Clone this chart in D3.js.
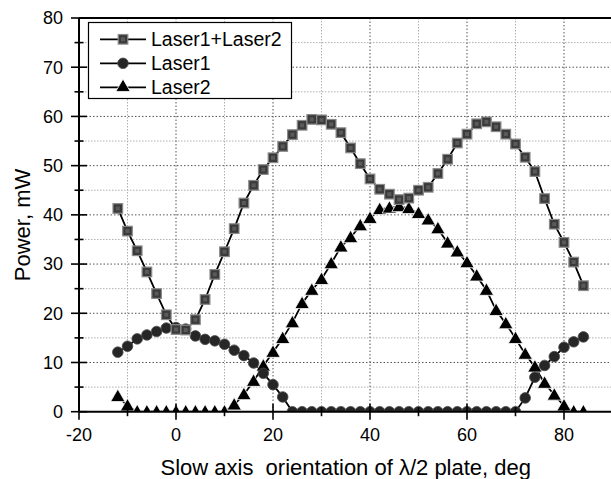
<!DOCTYPE html>
<html>
<head>
<meta charset="utf-8">
<script src="https://cdn.jsdelivr.net/npm/d3@7"></script>
<style>
  html, body { margin: 0; padding: 0; background: #fff; }
  svg { display: block; }
  text { font-family: "Liberation Sans", Arial, sans-serif; fill: #000; }
</style>
</head>
<body>
<svg id="chart" width="611" height="479"></svg>
<script>
// ---- data ----
const angles = d3.range(-12, 85, 2); // -12 ... 84 deg
const sumPower = [41.3, 36.7, 32.7, 28.4, 24.0, 19.7, 16.7, 16.6, 18.7, 22.8, 27.9, 32.5, 37.2, 42.4, 46.0, 49.2, 51.6, 53.9, 56.3, 58.2, 59.4, 59.3, 58.4, 56.7, 53.6, 50.4, 47.3, 45.2, 44.2, 43.1, 43.4, 45.0, 45.6, 48.4, 51.3, 54.6, 56.4, 58.5, 58.9, 57.9, 56.4, 54.4, 51.7, 48.8, 43.3, 38.1, 34.4, 30.4, 25.6];
const laser1 = [12.1, 13.3, 14.8, 15.6, 16.3, 17.0, 17.1, 16.8, 15.4, 14.7, 14.4, 13.7, 12.5, 11.4, 9.9, 7.8, 5.5, 3.0, 0, 0, 0, 0, 0, 0, 0, 0, 0, 0, 0, 0, 0, 0, 0, 0, 0, 0, 0, 0, 0, 0, 0, 0, 2.8, 7.0, 9.4, 11.2, 13.1, 14.2, 15.2];
const laser2 = [3.1, 1.2, 0, 0, 0, 0, 0, 0, 0, 0, 0, 0, 1.4, 3.5, 6.2, 9.3, 12.1, 14.9, 18.1, 22.0, 24.7, 26.9, 30.1, 33.5, 35.4, 37.8, 39.3, 41.1, 41.4, 41.7, 41.3, 40.3, 39.0, 37.2, 34.3, 32.5, 30.3, 27.6, 24.7, 20.6, 17.9, 14.9, 11.7, 9.1, 5.8, 3.4, 1.2, 0, 0];
const seriesNames = ["Laser1+Laser2", "Laser1", "Laser2"];
const xTicks = [-20, 0, 20, 40, 60, 80];
const yTicks = [0, 10, 20, 30, 40, 50, 60, 70, 80];
const xLabel = "Slow axis\u00a0 orientation of \u03bb/2 plate, deg";
const yLabel = "Power, mW";

// ---- layout ----
const svg = d3.select("#chart");
const L = 79, R = 612.5, T = 18, B = 411.7;
const x = d3.scaleLinear().domain([-20, 90]).range([L, R]);
const y = d3.scaleLinear().domain([0, 80]).range([B, T]);

// grid
const g = svg.append("g");
g.selectAll(".vminor").data(d3.range(-10, 90, 20)).enter().append("line")
  .attr("x1", d => x(d)).attr("x2", d => x(d)).attr("y1", T).attr("y2", B)
  .attr("stroke", "#b0b0b0").attr("stroke-width", 1).attr("stroke-dasharray", "1.5,1.5");
g.selectAll(".hminor").data(d3.range(5, 80, 10)).enter().append("line")
  .attr("x1", L).attr("x2", R).attr("y1", d => y(d)).attr("y2", d => y(d))
  .attr("stroke", "#b0b0b0").attr("stroke-width", 1).attr("stroke-dasharray", "1.5,1.5");
g.selectAll(".vmajor").data(d3.range(0, 90, 20)).enter().append("line")
  .attr("x1", d => x(d)).attr("x2", d => x(d)).attr("y1", T).attr("y2", B)
  .attr("stroke", "#555").attr("stroke-width", 1).attr("stroke-dasharray", "1.5,2");
g.selectAll(".hmajor").data(d3.range(10, 80, 10)).enter().append("line")
  .attr("x1", L).attr("x2", R).attr("y1", d => y(d)).attr("y2", d => y(d))
  .attr("stroke", "#555").attr("stroke-width", 1).attr("stroke-dasharray", "1.5,2");

// clip
svg.append("defs").append("clipPath").attr("id", "plotclip")
  .append("rect").attr("x", L).attr("y", T).attr("width", R - L).attr("height", B - T);

const plot = svg.append("g").attr("clip-path", "url(#plotclip)");
const line = d3.line().x(d => x(d[0])).y(d => y(d[1]));
const mk = arr => angles.map((a, i) => [a, arr[i]]);
const dSum = mk(sumPower), d1 = mk(laser1), d2 = mk(laser2);

plot.append("path").attr("d", line(d2)).attr("fill", "none").attr("stroke", "#000").attr("stroke-width", 1.8);
plot.append("path").attr("d", line(d1)).attr("fill", "none").attr("stroke", "#000").attr("stroke-width", 1.8);
plot.append("path").attr("d", line(dSum)).attr("fill", "none").attr("stroke", "#000").attr("stroke-width", 1.8);

const triPath = d3.symbol().type(d3.symbolTriangle).size(90)();
function drawSquare(sel, cx, cy) {
  sel.append("rect").attr("x", cx - 4.8).attr("y", cy - 4.8).attr("width", 9.6).attr("height", 9.6)
    .attr("fill", "#3a3a3a").attr("stroke", "#8a8a8a").attr("stroke-width", 1.2);
  sel.append("rect").attr("x", cx - 2).attr("y", cy - 2).attr("width", 4).attr("height", 4)
    .attr("fill", "#5a5a5a");
}
function drawCircle(sel, cx, cy) {
  sel.append("circle").attr("cx", cx).attr("cy", cy).attr("r", 5.3)
    .attr("fill", "#262626").attr("stroke", "#4a4a4a").attr("stroke-width", 0.8);
}
function drawTri(sel, cx, cy) {
  sel.append("path").attr("d", triPath).attr("transform", `translate(${cx},${cy + 1})`)
    .attr("fill", "#000").attr("stroke", "#fff").attr("stroke-width", 0.8);
}
d2.forEach(d => drawTri(plot, x(d[0]), y(d[1])));
d1.forEach(d => drawCircle(plot, x(d[0]), y(d[1])));
dSum.forEach(d => drawSquare(plot, x(d[0]), y(d[1])));

// frame (top and right)
svg.append("line").attr("x1", L).attr("x2", R).attr("y1", T).attr("y2", T).attr("stroke", "#000").attr("stroke-width", 2);
svg.append("line").attr("x1", R).attr("x2", R).attr("y1", T).attr("y2", B).attr("stroke", "#000").attr("stroke-width", 2);

// axes
const axisG = svg.append("g");
axisG.append("line").attr("x1", L).attr("x2", R).attr("y1", B).attr("y2", B).attr("stroke", "#000").attr("stroke-width", 2);
axisG.append("line").attr("x1", L).attr("x2", L).attr("y1", T).attr("y2", B).attr("stroke", "#000").attr("stroke-width", 2);

axisG.selectAll(".yt").data(yTicks).enter().append("line")
  .attr("x1", L - 8).attr("x2", L + 8).attr("y1", d => y(d)).attr("y2", d => y(d))
  .attr("stroke", "#000").attr("stroke-width", 1.6);
axisG.selectAll(".ytm").data(d3.range(5, 80, 10)).enter().append("line")
  .attr("x1", L - 4.5).attr("x2", L + 4.5).attr("y1", d => y(d)).attr("y2", d => y(d))
  .attr("stroke", "#000").attr("stroke-width", 1.6);
axisG.selectAll(".xt").data(xTicks).enter().append("line")
  .attr("x1", d => x(d)).attr("x2", d => x(d)).attr("y1", B - 8).attr("y2", B + 8)
  .attr("stroke", "#000").attr("stroke-width", 1.6);
axisG.selectAll(".xtm").data(d3.range(-10, 90, 20)).enter().append("line")
  .attr("x1", d => x(d)).attr("x2", d => x(d)).attr("y1", B - 4.5).attr("y2", B + 4.5)
  .attr("stroke", "#000").attr("stroke-width", 1.6);

axisG.selectAll(".yl").data(yTicks).enter().append("text")
  .attr("x", L - 16).attr("y", d => y(d)).attr("dy", "0.35em")
  .attr("text-anchor", "end").attr("font-size", 18).text(d => d);
axisG.selectAll(".xl").data(xTicks).enter().append("text")
  .attr("x", d => x(d)).attr("y", B + 29)
  .attr("text-anchor", "middle").attr("font-size", 18).text(d => d);

svg.append("text").attr("x", (L + R) / 2).attr("y", 475)
  .attr("text-anchor", "middle").attr("font-size", 22).text(xLabel);
svg.append("text").attr("transform", `translate(30, 225) rotate(-90)`)
  .attr("text-anchor", "middle").attr("font-size", 22).text(yLabel);

// legend
const leg = svg.append("g");
leg.append("rect").attr("x", 88.5).attr("y", 22.5).attr("width", 203).attr("height", 76)
  .attr("fill", "#fff").attr("stroke", "#000").attr("stroke-width", 1.2);
const rows = [39.3, 63.3, 87.3];
const drawers = [drawSquare, drawCircle, drawTri];
seriesNames.forEach((name, i) => {
  const cy = rows[i];
  leg.append("line").attr("x1", 100).attr("x2", 146).attr("y1", cy).attr("y2", cy)
    .attr("stroke", "#000").attr("stroke-width", 1.8);
  drawers[i](leg, 123, i === 2 ? cy - 1 : cy);
  leg.append("text").attr("x", 151).attr("y", cy).attr("dy", "0.36em")
    .attr("font-size", 19.5).text(name);
});
</script>
</body>
</html>
